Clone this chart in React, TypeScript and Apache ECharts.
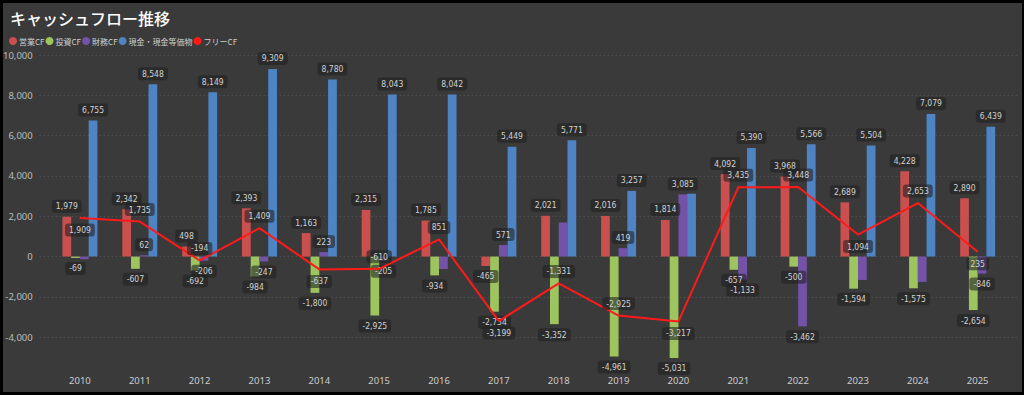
import React, { useEffect, useRef } from "react";
import * as echarts from "echarts";

const years = ["2010", "2011", "2012", "2013", "2014", "2015", "2016", "2017", "2018", "2019", "2020", "2021", "2022", "2023", "2024", "2025"];
const operatingCF = [1979, 2342, 498, 2393, 1163, 2315, 1785, -465, 2021, 2016, 1814, 4092, 3968, 2689, 4228, 2890];
const investingCF = [-69, -607, -692, -984, -1800, -2925, -934, -2734, -3352, -4961, -5031, -657, -500, -1594, -1575, -2654];
const financingCF = [-130, 62, -206, -247, 223, -205, -620, 571, 1690, 419, 3085, -1133, -3462, -1160, -1260, -846];
const cashBalance = [6755, 8548, 8149, 9309, 8780, 8043, 8042, 5449, 5771, 3257, 3120, 5390, 5566, 5504, 7079, 6439];
const freeCF = [1909, 1735, -194, 1409, -637, -610, 851, -3199, -1331, -2925, -3217, 3435, 3448, 1094, 2653, 235];
const freeLabelPos = ["bottom", "top", "top", "top", "bottom", "top", "top", "bottom", "top", "top", "bottom", "top", "top", "bottom", "top", "bottom"];
const hiddenFinancing = [0, 6, 8, 13, 14];
const hiddenCash = [10];
const yTicks = [-4000, 10000, 2000];

const NUM_FONT = "'DejaVu Sans Condensed', 'Liberation Sans Narrow', Roboto, sans-serif";
const fmt = (v: number) => v.toLocaleString("en-US");

const labelBase = {
  color: "#d2d2d2",
  fontSize: 8.5,
  fontFamily: NUM_FONT,
  backgroundColor: "rgba(32,32,32,0.58)",
  borderRadius: 3,
  padding: [2, 4],
  distance: 4,
};

function barData(values: number[], hidden: number[] = []) {
  return values.map((v, i) => ({
    value: v,
    label: { show: !hidden.includes(i), position: v >= 0 ? "top" : "bottom" },
  }));
}

export default function App() {
  const ref = useRef<HTMLDivElement>(null);
  useEffect(() => {
    if (!ref.current) return;
    const chart = echarts.init(ref.current, null, { renderer: "svg" });
    const mkBar = (name: string, color: string, values: number[], hidden: number[] = []) => ({
      name,
      type: "bar",
      xAxisIndex: 1,
      yAxisIndex: 1,
      barGap: "0%",
      barCategoryGap: "41.5%",
      itemStyle: { color },
      label: { ...labelBase, show: true, formatter: (p: any) => fmt(p.value) },
      data: barData(values, hidden),
      z: 2,
    });
    chart.setOption({
      animation: false,
      backgroundColor: "#3a3a3a",
      title: {
        text: "キャッシュフロー推移",
        left: 5,
        top: 5,
        textStyle: { color: "#ffffff", fontSize: 16, fontWeight: 500, fontFamily: "'Noto Sans CJK JP', sans-serif" },
      },
      legend: {
        left: 4,
        top: 32,
        icon: "circle",
        itemWidth: 8,
        itemHeight: 8,
        itemGap: 1,
        textStyle: { color: "#cfcfcf", fontSize: 8, fontFamily: "'Noto Sans CJK JP', sans-serif", padding: [0, 0, 0, -3] },
        data: ["営業CF", "投資CF", "財務CF", "現金・現金等価物", "フリーCF"],
      },
      graphic: [
        { type: "rect", shape: { x: 0, y: 0, width: 1024, height: 3 }, style: { fill: "#000" } },
        { type: "rect", shape: { x: 0, y: 0, width: 3, height: 395 }, style: { fill: "#000" } },
        { type: "rect", shape: { x: 0, y: 392, width: 1024, height: 3 }, style: { fill: "#000" } },
        { type: "rect", shape: { x: 1022, y: 0, width: 2, height: 395 }, style: { fill: "#000" } },
      ],
      grid: [
        { left: 38, right: 6, top: 55, bottom: 57.7 },
        { left: 50, right: 16.4, top: 55, bottom: 17.5 },
      ],
      xAxis: [
        { type: "value", gridIndex: 0, show: false, min: 0, max: 1 },
        {
          type: "category",
          gridIndex: 1,
          data: years,
          axisLine: { show: false },
          axisTick: { show: false },
          axisLabel: { color: "#cccccc", fontSize: 9.5, margin: -2, fontFamily: "'Noto Sans', sans-serif" },
        },
      ],
      yAxis: [
        {
          type: "value",
          gridIndex: 0,
          min: yTicks[0],
          max: yTicks[1],
          interval: yTicks[2],
          axisLine: { show: false },
          axisTick: { show: false },
          axisLabel: { color: "#bdbdbd", fontSize: 9.5, margin: 7, fontFamily: "'Noto Sans', sans-serif", formatter: (v: number) => fmt(v) },
          splitLine: { lineStyle: { color: "#5a5a5a", type: [1, 3], width: 1 } },
        },
        { type: "value", gridIndex: 1, min: -6000, max: 10000, show: false, splitLine: { show: false } },
      ],
      series: [
        mkBar("営業CF", "#c9504e", operatingCF),
        mkBar("投資CF", "#9dc45f", investingCF),
        mkBar("財務CF", "#7352a8", financingCF, hiddenFinancing),
        mkBar("現金・現金等価物", "#4e84c4", cashBalance, hiddenCash),
        {
          name: "フリーCF",
          type: "line",
          xAxisIndex: 1,
          yAxisIndex: 1,
          symbol: "circle",
          symbolSize: 1,
          itemStyle: { color: "#ff1a1a" },
          lineStyle: { color: "#ff1a1a", width: 2 },
          label: { ...labelBase, show: true, distance: 5, formatter: (p: any) => fmt(p.value) },
          data: freeCF.map((v, i) => ({ value: v, label: { position: freeLabelPos[i] } })),
          z: 5,
        },
      ],
    });
    return () => chart.dispose();
  }, []);
  return <div ref={ref} style={{ position: "fixed", left: 0, top: 0, width: 1024, height: 395 }} />;
}
